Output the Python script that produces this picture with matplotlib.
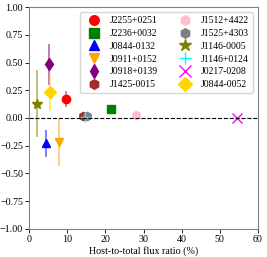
import matplotlib
matplotlib.use("Agg")
import matplotlib.pyplot as plt

plt.rcParams['font.family'] = ['Liberation Serif', 'DejaVu Serif']
plt.rcParams['mathtext.fontset'] = 'stix'

names = ["J2255+0251", "J2236+0032", "J0844-0132", "J0911+0152", "J0918+0139",
         "J1425-0015", "J1512+4422", "J1525+4303", "J1146-0005", "J1146+0124",
         "J0217-0208", "J0844-0052"]
xvals = [9.6, 21.5, 4.3, 7.8, 5.2, 14.2, 28.0, 15.2, 1.9, 14.7, 54.5, 5.4]
yvals = [0.17, 0.08, -0.23, -0.22, 0.485, 0.02, 0.025, 0.015, 0.13, 0.01, 0.0, 0.23]
yerrs = [0.075, 0.0, 0.12, 0.21, 0.185, 0.0, 0.0, 0.0, 0.30, 0.0, 0.0, 0.17]
colors = ["red", "green", "blue", "orange", "purple", "brown", "pink", "gray",
          "olive", "cyan", "magenta", "gold"]
markers = ["o", "s", "^", "v", "d", "h", "h", "h", "*", "+", "x", "D"]

fig = plt.figure(figsize=(2.67, 2.57), dpi=100)
ax = fig.add_axes([0.11, 0.11, 0.855, 0.862])

for n, x, y, e, c, m in zip(names, xvals, yvals, yerrs, colors, markers):
    ms = 6
    if m == "*":
        ms = 7.5
    if m in ("+", "x"):
        ms = 7
    if e > 0:
        ax.errorbar([x], [y], yerr=[e], fmt='none', ecolor=c, alpha=0.6, elinewidth=1.2)
    ax.plot([x], [y], linestyle='none', marker=m, color=c, markersize=ms, label=n)

ax.axhline(0, color='black', linestyle='--', linewidth=0.8)
ax.set_xlim(0, 60)
ax.set_ylim(-1.0, 1.0)
ax.set_xticks([0, 10, 20, 30, 40, 50, 60])
ax.set_yticks([-1.0, -0.75, -0.5, -0.25, 0.0, 0.25, 0.5, 0.75, 1.0])
ax.set_yticklabels(["\u22121.00", "\u22120.75", "\u22120.50", "\u22120.25", "0.00",
                    "0.25", "0.50", "0.75", "1.00"])
ax.tick_params(labelsize=7.2, length=3, width=0.6, pad=1.5)
ax.set_xlabel("Host-to-total flux ratio (%)", fontsize=7.2, labelpad=1.5)
for s in ax.spines.values():
    s.set_color('gray')
    s.set_linewidth(0.8)

ax.legend(ncol=2, loc='upper right', fontsize=7, handletextpad=0.6,
          columnspacing=1.8, labelspacing=0.38, borderpad=0.45,
          borderaxespad=0.5, markerscale=1.15)

fig.savefig("out.png", dpi=100)
